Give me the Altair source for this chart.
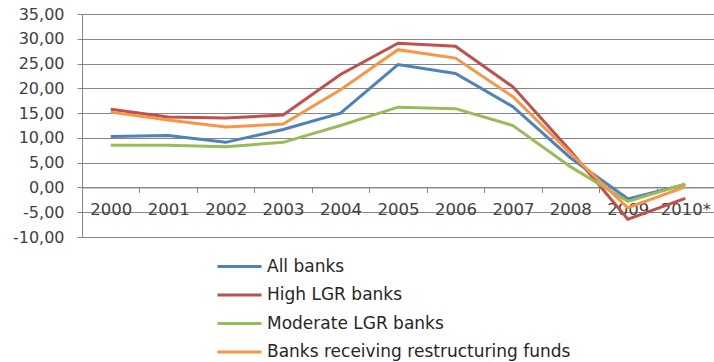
import altair as alt
import pandas as pd

years = ["2000", "2001", "2002", "2003", "2004", "2005", "2006", "2007", "2008", "2009", "2010*"]
all_banks = [10.3, 10.5, 9.1, 11.7, 15.0, 24.8, 23.0, 16.3, 6.0, -2.3, 0.6]
high_lgr = [15.8, 14.2, 14.0, 14.6, 22.8, 29.1, 28.5, 20.3, 7.4, -6.4, -2.2]
moderate_lgr = [8.5, 8.5, 8.2, 9.1, 12.5, 16.2, 15.9, 12.5, 4.2, -2.8, 0.7]
restructuring = [15.2, 13.6, 12.2, 12.8, 19.7, 27.8, 26.1, 18.3, 6.9, -4.1, 0.1]

series_names = ["All banks", "High LGR banks", "Moderate LGR banks", "Banks receiving restructuring funds"]
series_values = [all_banks, high_lgr, moderate_lgr, restructuring]
series_colors = ["#4F81BD", "#C0504D", "#9BBB59", "#F79646"]
y_ticks = [-10, -5, 0, 5, 10, 15, 20, 25, 30, 35]

rows = []
for name, vals in zip(series_names, series_values):
    for yr, v in zip(years, vals):
        rows.append({"year": yr, "value": v, "series": name})
df = pd.DataFrame(rows)

W, H = 632, 223
Y_MIN, Y_MAX = -10, 35
zero_offset = -H * (0 - Y_MIN) / (Y_MAX - Y_MIN)

font = "DejaVu Sans"
grey = "#868686"

# wide horizontal dash used as the legend swatch
dash_path = "M-2,0H2"

chart = alt.Chart(df).mark_line(strokeWidth=3).encode(
    x=alt.X(
        "year:O",
        sort=years,
        scale=alt.Scale(type="band", paddingInner=0, paddingOuter=0),
        axis=alt.Axis(
            title=None, labelAngle=0, tickBand="extent", grid=False,
            offset=zero_offset, domainColor=grey, tickColor=grey, tickSize=5,
            labelPadding=9, labelFont=font, labelFontSize=16.5, labelColor="#404040",
        ),
    ),
    y=alt.Y(
        "value:Q",
        scale=alt.Scale(domain=[Y_MIN, Y_MAX], nice=False, zero=False),
        axis=alt.Axis(
            title=None, values=y_ticks, grid=True, gridColor=grey, gridWidth=1,
            domainColor=grey, tickColor=grey, tickSize=5, labelPadding=13,
            labelFont=font, labelFontSize=16, labelColor="#404040",
            labelExpr="replace(replace(format(datum.value, '.2f'), '.', ','), '\u2212', '-')",
        ),
    ),
    color=alt.Color(
        "series:N",
        sort=series_names,
        scale=alt.Scale(domain=series_names, range=series_colors),
        legend=alt.Legend(
            title=None, orient="none", legendX=145, legendY=240,
            symbolType=dash_path, symbolSize=484, symbolStrokeWidth=3,
            labelFont=font, labelFontSize=17, labelColor="#262626",
            labelOffset=15, labelLimit=0, rowPadding=7.5,
        ),
    ),
    detail="series:N",
).properties(
    width=W, height=H,
    autosize=alt.AutoSizeParams(type="none"),
    padding={"left": 82, "top": 14, "right": 0, "bottom": 125},
).configure_view(stroke=None).configure(background="white")

chart.save("out.html", embed_options={"renderer": "svg", "actions": False})
